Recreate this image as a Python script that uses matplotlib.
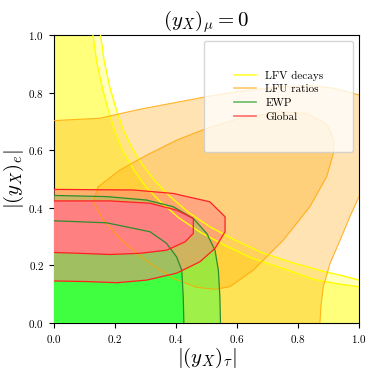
import numpy as np
import matplotlib
matplotlib.use("Agg")
import matplotlib.pyplot as plt
from matplotlib.lines import Line2D

plt.rcParams['mathtext.fontset'] = 'cm'
plt.rcParams['font.family'] = 'serif'
plt.rcParams['font.serif'] = ['cmr10']
plt.rcParams['axes.formatter.use_mathtext'] = True

# LFV decays: 1 sigma (inner) and 2 sigma (outer) boundaries
lfv_in_x = [0.128, 0.140, 0.158, 0.178, 0.200, 0.225, 0.26, 0.30, 0.35, 0.41, 0.48, 0.56, 0.65, 0.75, 0.85, 0.93, 1.0]
lfv_in_y = [1.0, 0.91, 0.82, 0.74, 0.665, 0.60, 0.535, 0.475, 0.42, 0.365, 0.315, 0.27, 0.225, 0.19, 0.152, 0.136, 0.126]
lfv_out_x = [0.153, 0.165, 0.183, 0.205, 0.228, 0.255, 0.29, 0.33, 0.38, 0.44, 0.51, 0.59, 0.68, 0.78, 0.88, 0.95, 1.0]
lfv_out_y = [1.0, 0.91, 0.82, 0.74, 0.67, 0.61, 0.55, 0.495, 0.44, 0.385, 0.335, 0.29, 0.245, 0.21, 0.18, 0.163, 0.149]

# LFU ratios
lfu_out_top_x = [0.0, 0.15, 0.28, 0.41, 0.52, 0.63, 0.74, 0.84, 0.92, 1.0, 1.05]
lfu_out_top_y = [0.703, 0.711, 0.742, 0.768, 0.79, 0.808, 0.82, 0.825, 0.815, 0.792, 0.76]
lfu_out_right_x = [1.05, 1.0, 0.970, 0.938, 0.905, 0.883, 0.875, 0.872]
lfu_out_right_y = [0.45, 0.439, 0.369, 0.288, 0.207, 0.126, 0.057, 0.0]
lfu_in_x = [0.145, 0.129, 0.162, 0.227, 0.315, 0.391, 0.468, 0.528, 0.577, 0.654, 0.752, 0.839,
            0.894, 0.916, 0.918, 0.896, 0.828, 0.741, 0.610, 0.501, 0.402, 0.304, 0.216, 0.145]
lfu_in_y = [0.473, 0.421, 0.358, 0.282, 0.207, 0.155, 0.124, 0.117, 0.126, 0.184, 0.288, 0.404,
            0.508, 0.589, 0.635, 0.690, 0.728, 0.734, 0.711, 0.676, 0.635, 0.583, 0.531, 0.473]

# EWP
ewp_out_x = [0.0, 0.173, 0.304, 0.391, 0.457, 0.501, 0.528, 0.539, 0.544, 0.546]
ewp_out_y = [0.443, 0.439, 0.427, 0.404, 0.363, 0.311, 0.253, 0.184, 0.091, 0.0]
ewp_in_x = [0.0, 0.173, 0.315, 0.369, 0.402, 0.419, 0.424, 0.426]
ewp_in_y = [0.355, 0.348, 0.317, 0.277, 0.230, 0.184, 0.091, 0.0]

# Global
glob_out_x = [0.0, 0.26, 0.391, 0.511, 0.561, 0.561, 0.528, 0.479, 0.402, 0.304, 0.206, 0.107, 0.0]
glob_out_y = [0.464, 0.462, 0.450, 0.421, 0.369, 0.317, 0.259, 0.213, 0.173, 0.149, 0.140, 0.144, 0.146]
glob_in_x = [0.0, 0.184, 0.315, 0.402, 0.457, 0.457, 0.430, 0.370, 0.282, 0.184, 0.085, 0.0]
glob_in_y = [0.424, 0.424, 0.416, 0.392, 0.363, 0.311, 0.282, 0.253, 0.242, 0.238, 0.242, 0.245]

fig = plt.figure(figsize=(3.74, 3.73), dpi=100)
ax = fig.add_axes([0.144, 0.134, 0.816, 0.772])

# fills
ax.fill([0, 0] + lfv_out_x + [1.0], [0, 1] + lfv_out_y + [0], color='yellow', alpha=0.25, lw=0, zorder=1)
ax.fill([0, 0] + lfv_in_x + [1.0], [0, 1] + lfv_in_y + [0], color='yellow', alpha=0.35, lw=0, zorder=1.1)
ax.fill([0] + lfu_out_top_x + lfu_out_right_x, [0] + lfu_out_top_y + lfu_out_right_y,
        color='#ffa500', alpha=0.3, lw=0, zorder=2)
ax.fill(lfu_in_x, lfu_in_y, color='#ffa500', alpha=0.3, lw=0, zorder=2.1)
ax.fill([0] + ewp_out_x, [0] + ewp_out_y, color='#40ff40', alpha=0.5, lw=0, zorder=3)
ax.fill([0] + ewp_in_x, [0] + ewp_in_y, color='#40ff40', alpha=1.0, lw=0, zorder=3.1)
ax.fill(glob_out_x, glob_out_y, color='#ff8080', alpha=0.5, lw=0, zorder=4)
ax.fill(glob_in_x, glob_in_y, color='#ff8080', alpha=1.0, lw=0, zorder=4.1)

# contour lines
for xs, ys in [(lfv_in_x, lfv_in_y), (lfv_out_x, lfv_out_y)]:
    ax.plot(xs, ys, color='#ffff00', lw=1.0, zorder=5)
for xs, ys in [(lfu_out_top_x, lfu_out_top_y), (lfu_out_right_x, lfu_out_right_y), (lfu_in_x, lfu_in_y)]:
    ax.plot(xs, ys, color='#ffa500', lw=0.8, alpha=0.8, zorder=5)
for xs, ys in [(ewp_out_x, ewp_out_y), (ewp_in_x, ewp_in_y)]:
    ax.plot(xs, ys, color='#2e8b2e', lw=0.9, zorder=5)
for xs, ys in [(glob_out_x, glob_out_y), (glob_in_x, glob_in_y)]:
    ax.plot(xs, ys, color='#ff2020', lw=0.9, zorder=5)

ax.set_xlim(0, 1)
ax.set_ylim(0, 1)
ax.set_xticks([0.0, 0.2, 0.4, 0.6, 0.8, 1.0])
ax.set_yticks([0.0, 0.2, 0.4, 0.6, 0.8, 1.0])
ax.tick_params(labelsize=8)
ax.set_xlabel(r'$|(y_X)_\tau|$', fontsize=15, labelpad=1)
ax.set_ylabel(r'$|(y_X)_e|$', fontsize=15, labelpad=2)
ax.set_title(r'$(y_X)_\mu = 0$', fontsize=15, pad=6)

handles = [Line2D([], [], color='#ffff00', lw=1.2, alpha=0.8),
           Line2D([], [], color='#ffa500', lw=1.2, alpha=0.6),
           Line2D([], [], color='#2ca02c', lw=1.2, alpha=0.7),
           Line2D([], [], color='#ff3030', lw=1.2, alpha=0.7)]
labels = ['LFV decays', 'LFU ratios', 'EWP', 'Global']
leg = ax.legend(handles, labels, loc='upper right', fontsize=8, borderpad=2.7, labelspacing=0.35)
leg.set_zorder(10)

fig.savefig('out.png', dpi=100)
